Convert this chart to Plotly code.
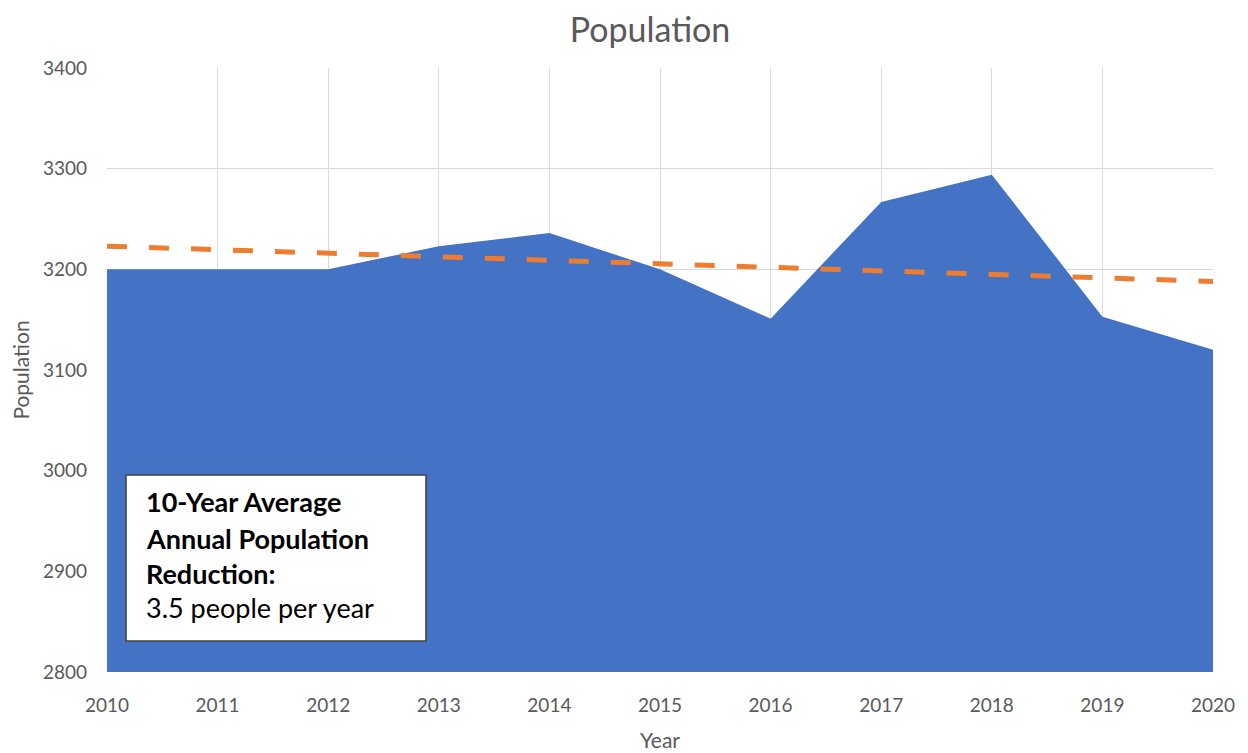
import plotly.graph_objects as go

years = [2010, 2011, 2012, 2013, 2014, 2015, 2016, 2017, 2018, 2019, 2020]
population = [3200, 3200, 3200, 3223, 3236, 3200, 3151, 3267, 3294, 3153, 3120]
trend_years = [2010, 2020]
trend_values = [3223, 3188]
y_ticks = [2800, 2900, 3000, 3100, 3200, 3300, 3400]
box_lines = ["<b>10-Year Average</b>", "<b>Annual Population</b>", "<b>Reduction:</b>", "3.5 people per year"]

FONT = "Lato, 'Open Sans', sans-serif"
OFF = 8  # page body margin offset
L, R, T, B = 107 - OFF, 35 + OFF, 68 - OFF, 81 + OFF
PL, PR, PT, PB = 107, 1213, 68, 672  # plot area on screen
PW, PH = PR - PL, PB - PT

fig = go.Figure()
fig.add_trace(go.Scatter(x=years, y=population, mode="lines", fill="tozeroy",
                         fillcolor="#4472C4", line=dict(width=0, color="#4472C4"),
                         showlegend=False, hoverinfo="x+y"))
fig.add_trace(go.Scatter(x=trend_years, y=trend_values, mode="lines",
                         line=dict(color="#ED7D31", width=5, dash="20px,22px"),
                         showlegend=False))

fig.update_layout(
    width=1248, height=753,
    margin=dict(l=L, r=R, t=T, b=B, autoexpand=False),
    paper_bgcolor="white", plot_bgcolor="white",
    title=dict(text="Population", xref="paper", x=(650 - PL) / PW, xanchor="center",
               yref="container", y=1 - (30 - OFF) / 753, yanchor="middle",
               font=dict(family=FONT, size=34, color="#595959")),
    font=dict(family=FONT, color="#595959"),
    xaxis=dict(range=[2010, 2020], tickmode="array", tickvals=years,
               ticktext=[str(y) for y in years], showgrid=True, gridcolor="#D9D9D9",
               gridwidth=1, zeroline=False, showline=False, ticks="", automargin=False,
               ticklabelstandoff=20,
               tickfont=dict(size=19, color="#595959"),
               title=dict(text="Year", font=dict(size=21, color="#595959"), standoff=18)),
    yaxis=dict(range=[2800, 3400], tickmode="array", tickvals=y_ticks,
               showgrid=True, gridcolor="#D9D9D9", gridwidth=1, zeroline=False,
               showline=False, ticks="", automargin=False, ticklabelstandoff=19,
               tickfont=dict(size=19, color="#595959"),
               title=dict(text="Population", font=dict(size=21, color="#595959"), standoff=14)),
)

fig.add_shape(type="rect", xref="paper", yref="paper",
              x0=(126 - PL) / PW, x1=(426 - PL) / PW, y0=(PB - 641) / PH, y1=(PB - 475) / PH,
              fillcolor="white", line=dict(color="#404040", width=1.5), layer="above")

line_centers = [501, 538, 573, 607]
for txt, yc in zip(box_lines, line_centers):
    fig.add_annotation(text=txt, xref="paper", yref="paper",
                       x=(144 - PL) / PW, y=(PB - yc) / PH,
                       xanchor="left", yanchor="middle", showarrow=False,
                       font=dict(family=FONT, size=27, color="#000000"))

fig.write_html("out.html")
